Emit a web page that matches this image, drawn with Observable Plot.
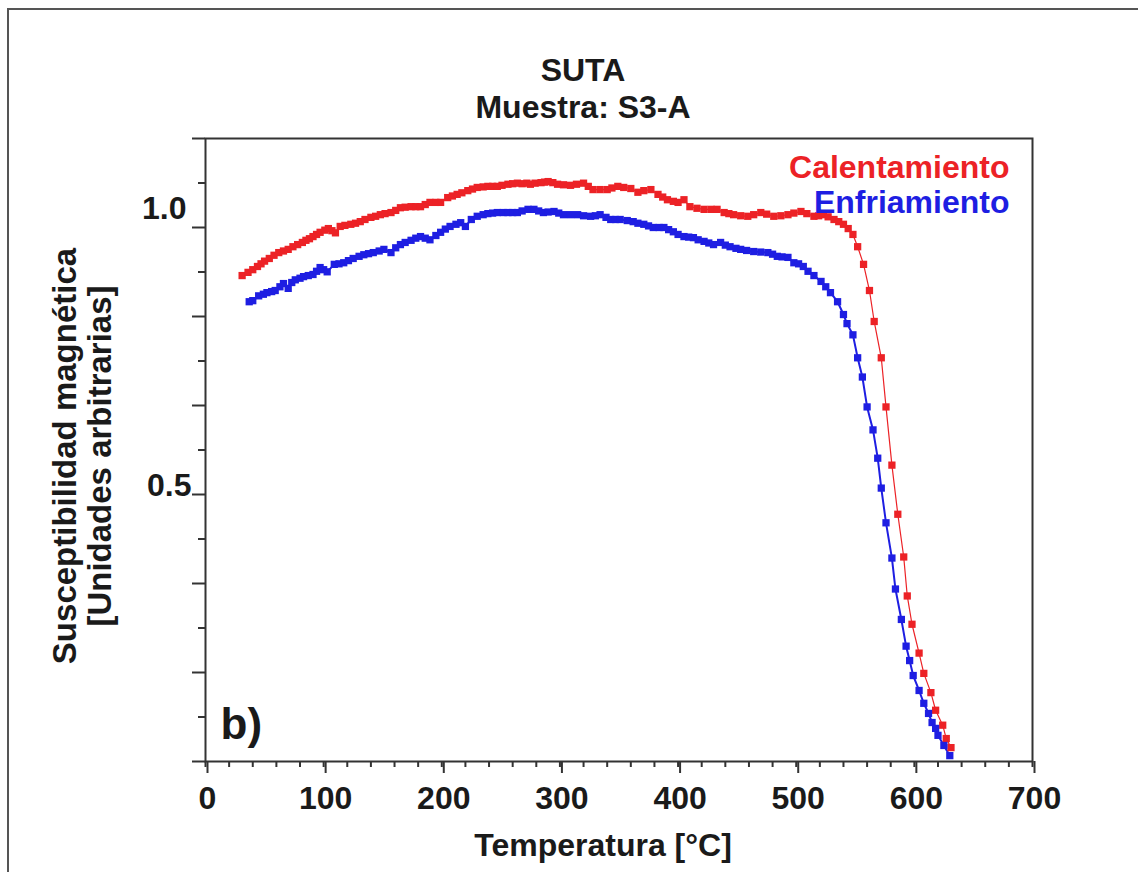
<!DOCTYPE html>
<html>
<head>
<meta charset="utf-8">
<script src="https://cdn.jsdelivr.net/npm/d3@7"></script>
<script src="https://cdn.jsdelivr.net/npm/@observablehq/plot@0.6"></script>
<style>
html, body { margin: 0; padding: 0; background: #fff; overflow: hidden; }
#wrap { position: relative; width: 1138px; height: 872px; }
#chart { position: absolute; left: 0; top: 0; }
#border { position: absolute; left: 7px; top: 8px; width: 1300px; height: 1000px;
  border-left: 2px solid #555; border-top: 2px solid #555; pointer-events: none; z-index: 2; }
</style>
</head>
<body>
<div id="wrap"><div id="chart"></div><div id="border"></div></div>
<script>
// ---- Data ----
const heatingTemp = [31,36,40,44,47,50,54,58,62,66,70,74,78,82,85,88,91,94,97,101,104,107,110,114,118,123,127,131,135,140,144,148,152,157,161,165,169,174,178,182,186,190,195,199,205,209,213,217,222,226,230,235,239,243,247,251,256,260,264,268,272,275,279,284,287,290,294,298,303,309,314,320,324,328,334,340,344,349,354,360,366,371,377,383,387,391,396,400,405,410,416,422,428,433,439,443,447,453,459,464,470,475,481,487,493,498,504,509,515,519,523,527,532,536,540,544,548,552,557,562,566,572,576,581,586,591,594,598,604,608,614,618,624,627,631];
const heatingSusc = [0.910,0.916,0.921,0.927,0.932,0.937,0.942,0.948,0.953,0.956,0.959,0.964,0.968,0.972,0.976,0.979,0.983,0.987,0.991,0.995,0.998,0.994,0.990,1.002,1.004,1.006,1.008,1.011,1.015,1.019,1.021,1.024,1.026,1.028,1.032,1.037,1.038,1.039,1.039,1.039,1.043,1.047,1.047,1.047,1.056,1.059,1.062,1.065,1.069,1.072,1.075,1.076,1.077,1.077,1.077,1.079,1.081,1.082,1.083,1.082,1.083,1.081,1.083,1.084,1.085,1.086,1.084,1.081,1.080,1.079,1.081,1.083,1.077,1.071,1.071,1.071,1.074,1.077,1.075,1.073,1.066,1.069,1.071,1.062,1.057,1.052,1.049,1.047,1.052,1.039,1.036,1.034,1.034,1.034,1.028,1.026,1.024,1.022,1.021,1.024,1.028,1.025,1.021,1.022,1.024,1.027,1.030,1.026,1.021,1.022,1.024,1.020,1.015,1.011,1.006,0.998,0.987,0.964,0.931,0.882,0.824,0.756,0.664,0.555,0.463,0.383,0.310,0.257,0.203,0.165,0.129,0.096,0.068,0.043,0.026];

const coolingTemp = [37,40,45,49,52,56,59,63,66,70,73,76,80,83,87,91,94,97,100,103,109,113,117,121,125,130,134,138,142,147,151,157,161,165,169,174,178,182,186,190,195,199,203,207,212,216,220,225,230,235,239,243,247,252,256,260,264,268,273,278,282,286,290,295,299,303,309,315,320,326,330,334,339,343,347,351,357,362,366,371,375,379,384,388,392,396,400,405,409,413,417,422,426,430,436,440,444,449,453,458,464,470,476,480,484,488,493,498,502,506,510,515,521,525,529,535,540,543,548,552,556,560,565,569,572,576,581,584,589,593,596,599,604,608,612,615,618,620,625,630];
const coolingSusc = [0.861,0.863,0.872,0.875,0.878,0.880,0.882,0.889,0.895,0.886,0.897,0.902,0.905,0.908,0.910,0.912,0.918,0.925,0.921,0.917,0.931,0.932,0.934,0.938,0.942,0.946,0.949,0.951,0.953,0.956,0.959,0.953,0.962,0.968,0.972,0.976,0.980,0.983,0.980,0.977,0.985,0.991,0.997,1.002,1.006,1.009,1.002,1.015,1.021,1.024,1.026,1.027,1.028,1.028,1.028,1.028,1.028,1.031,1.034,1.034,1.031,1.028,1.029,1.030,1.027,1.024,1.024,1.024,1.022,1.021,1.022,1.024,1.019,1.015,1.015,1.015,1.013,1.011,1.008,1.006,1.003,1.000,1.000,1.000,0.996,0.992,0.987,0.983,0.982,0.981,0.977,0.974,0.971,0.968,0.972,0.967,0.964,0.961,0.959,0.957,0.955,0.954,0.953,0.950,0.946,0.945,0.944,0.934,0.932,0.927,0.918,0.910,0.899,0.889,0.878,0.861,0.837,0.820,0.799,0.756,0.720,0.664,0.621,0.568,0.512,0.447,0.381,0.323,0.266,0.216,0.189,0.161,0.133,0.109,0.090,0.073,0.062,0.049,0.030,0.011];

const seriesNames = ["Calentamiento", "Enfriamiento"];
const seriesColors = ["#ec2226", "#1e1ee2"];

const xMajorTicks = [0, 100, 200, 300, 400, 500, 600, 700];
const xMinorTicks = d3.range(0, 701, 20);
const yLongTicks = [0, 2, 4, 6, 8, 10, 12, 14].map(k => k / 12);
const yShortTicks = [1, 3, 5, 7, 9, 11, 13].map(k => k / 12);
const yLabelUpper = [1.0];
const yLabelLower = [0.5];

const titleLines = "SUTA\nMuestra: S3-A";
const xTitle = "Temperatura [°C]";
const yTitle = "Susceptibilidad magnética\n[Unidades arbitrarias]";
const panelTag = "b)";

const heating = heatingTemp.map((t, i) => ({t, v: heatingSusc[i]}));
const cooling = coolingTemp.map((t, i) => ({t, v: coolingSusc[i]}));

const ink = "#1a1a1a";
const axisInk = "#333";

const chart = Plot.plot({
  width: 1138,
  height: 872,
  marginLeft: 205,
  marginRight: 106,
  marginTop: 138,
  marginBottom: 111,
  style: {fontFamily: "'Liberation Sans', Arial, sans-serif", fontWeight: "bold", fontSize: "32px", color: ink, background: "transparent", overflow: "visible"},
  x: {domain: [0, 700], label: null},
  y: {domain: [0, 14 / 12], label: null},
  marks: [
    // curves
    Plot.line(heating, {x: "t", y: "v", stroke: seriesColors[0], strokeWidth: 1.2}),
    Plot.line(cooling, {x: "t", y: "v", stroke: seriesColors[1], strokeWidth: 2}),
    Plot.dot(heating, {x: "t", y: "v", symbol: "square", r: 4.1, fill: seriesColors[0], stroke: "none"}),
    Plot.dot(cooling, {x: "t", y: "v", symbol: "square", r: 4.1, fill: seriesColors[1], stroke: "none"}),
    // frame & axes
    Plot.frame({stroke: axisInk, strokeWidth: 2}),
    Plot.axisX({ticks: xMinorTicks, tickSize: 6, tickFormat: () => "", stroke: axisInk, strokeWidth: 2, label: null}),
    Plot.axisX({ticks: xMajorTicks, tickSize: 12, tickPadding: 13, tickFormat: d => String(d), stroke: axisInk, strokeWidth: 2, fontSize: 32, fill: ink, label: null, dx: 2}),
    Plot.axisY({ticks: yLongTicks, tickSize: 13, tickFormat: () => "", stroke: axisInk, strokeWidth: 2, label: null}),
    Plot.axisY({ticks: yShortTicks, tickSize: 7, tickFormat: () => "", stroke: axisInk, strokeWidth: 2, label: null}),
    // y tick labels
    Plot.text(yLabelUpper, {y: d => d, frameAnchor: "left", text: d => d.toFixed(1), textAnchor: "end", lineAnchor: "bottom", dx: -19, dy: -9, fontSize: 32, fill: ink}),
    Plot.text(yLabelLower, {y: d => d, frameAnchor: "left", text: d => d.toFixed(1), textAnchor: "end", lineAnchor: "bottom", dx: -14, dy: 1, fontSize: 32, fill: ink}),
    // titles
    Plot.text([titleLines], {text: d => d, frameAnchor: "top", textAnchor: "middle", lineAnchor: "bottom", lineHeight: 1.156, dx: -36, dy: -21, fontSize: 32, fill: ink}),
    Plot.text([xTitle], {text: d => d, frameAnchor: "bottom", textAnchor: "middle", lineAnchor: "bottom", dx: -16, dy: 94, fontSize: 32, fill: ink}),
    Plot.text([yTitle], {text: d => d, frameAnchor: "left", rotate: -90, textAnchor: "middle", lineAnchor: "bottom", lineHeight: 1.06, dx: -95, dy: 6, fontSize: 33, fill: ink}),
    // panel tag
    Plot.text([panelTag], {text: d => d, frameAnchor: "bottom-left", textAnchor: "start", lineAnchor: "bottom", dx: 15, dy: -23, fontSize: 44, fill: ink}),
    // legend
    Plot.text([seriesNames[0]], {text: d => d, frameAnchor: "top-right", textAnchor: "end", lineAnchor: "bottom", dx: -23, dy: 39, fontSize: 32, fill: seriesColors[0]}),
    Plot.text([seriesNames[1]], {text: d => d, frameAnchor: "top-right", textAnchor: "end", lineAnchor: "bottom", dx: -23, dy: 74, fontSize: 32, fill: seriesColors[1]})
  ]
});
document.getElementById("chart").appendChild(chart);
</script>
</body>
</html>
